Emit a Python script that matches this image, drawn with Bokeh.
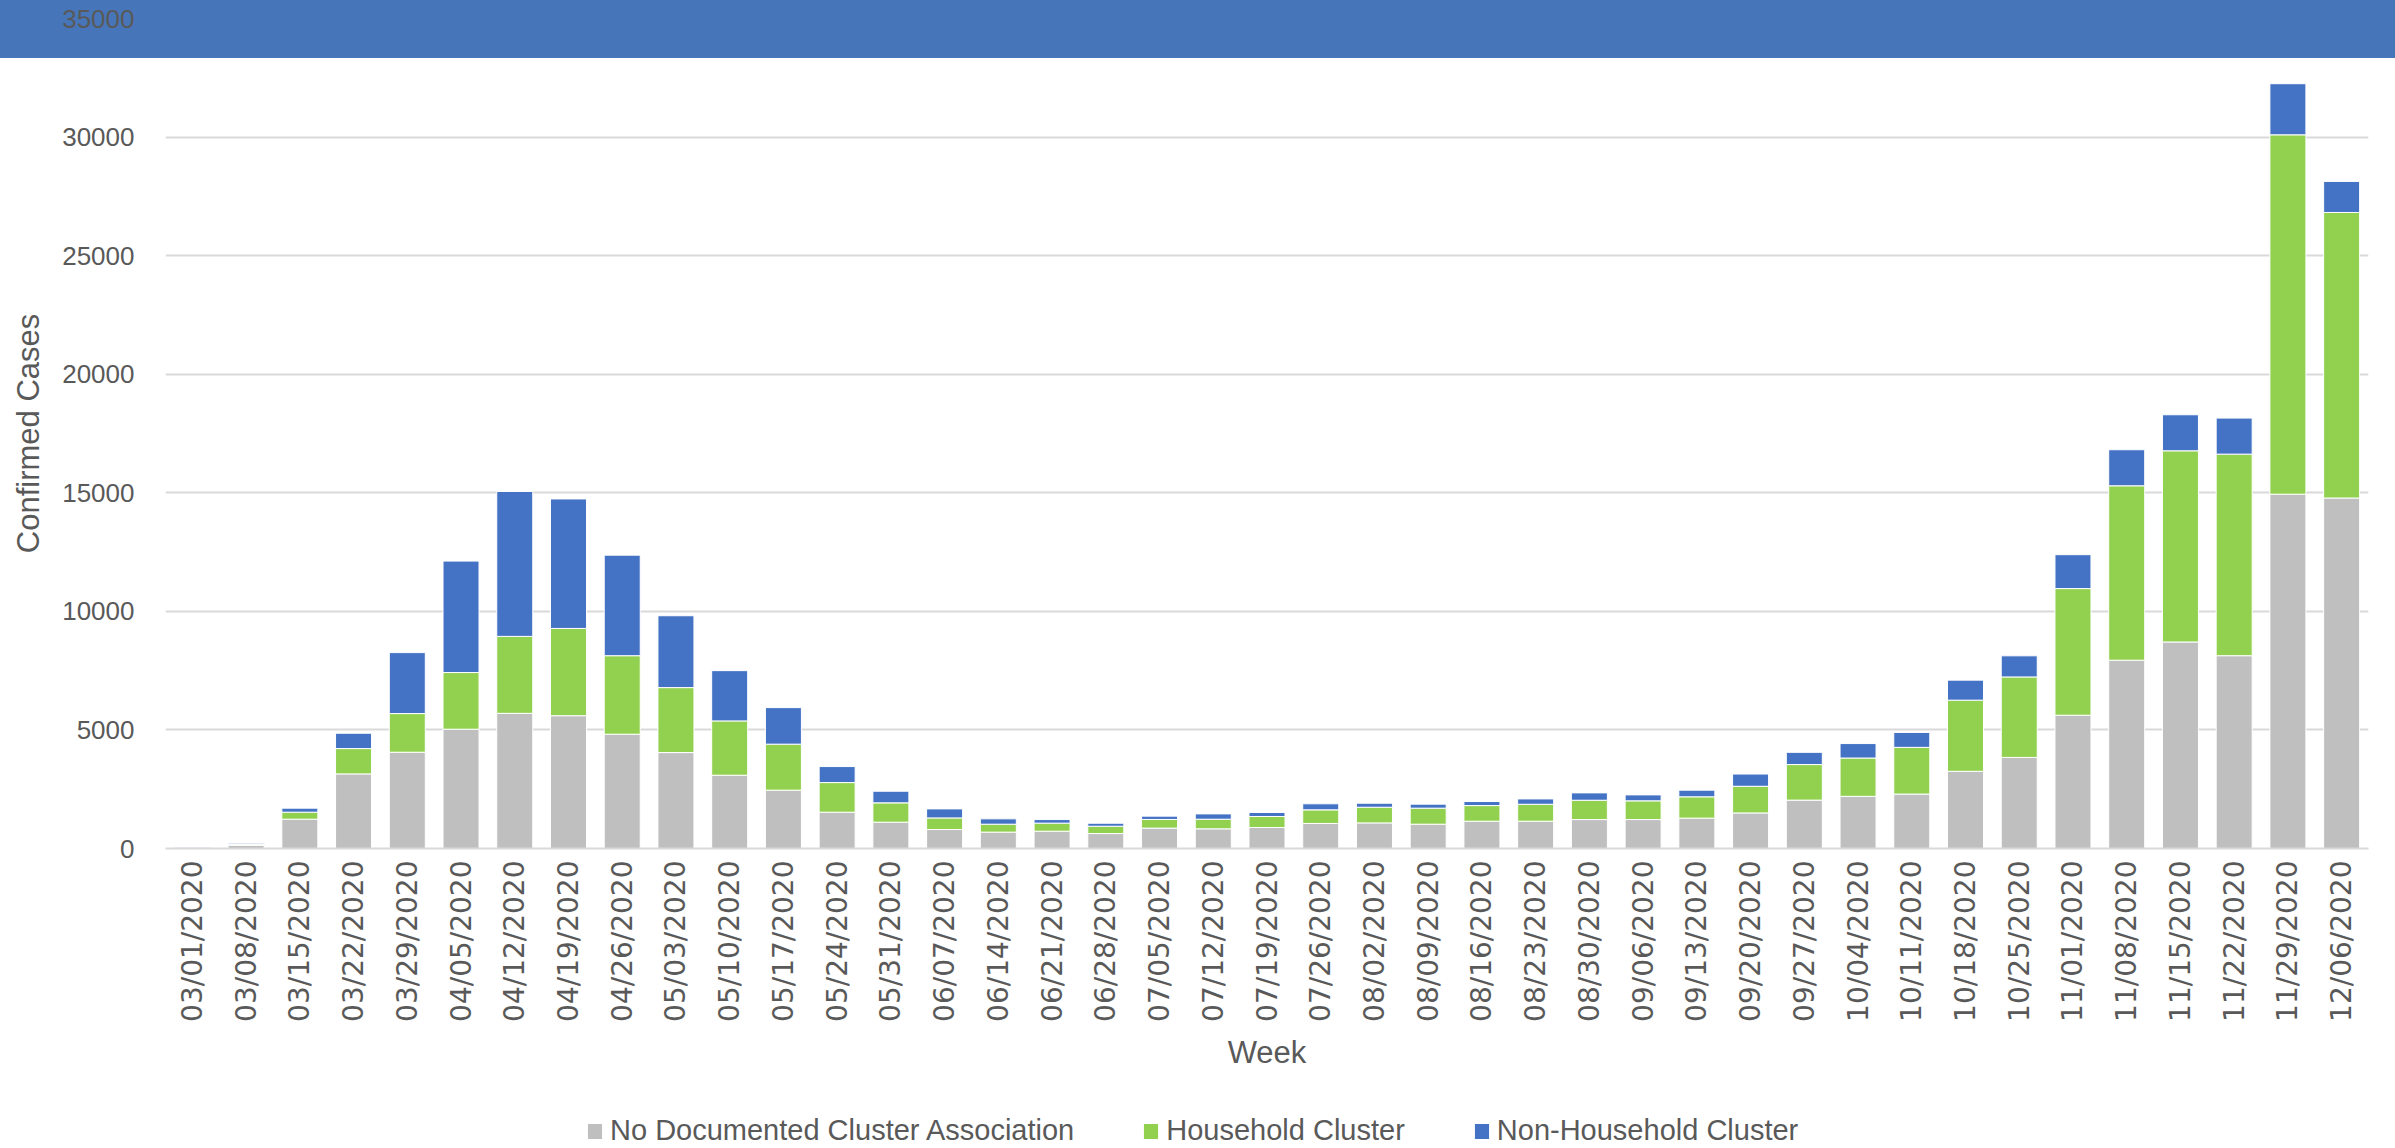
from bokeh.plotting import figure
from bokeh.models import (FactorRange, Range1d, FixedTicker, NumeralTickFormatter,
                          Legend, LegendItem)
from bokeh.layouts import column
from bokeh.embed import file_html
from bokeh.resources import INLINE
import math

weeks = ["03/01/2020", "03/08/2020", "03/15/2020", "03/22/2020", "03/29/2020",
         "04/05/2020", "04/12/2020", "04/19/2020", "04/26/2020", "05/03/2020",
         "05/10/2020", "05/17/2020", "05/24/2020", "05/31/2020", "06/07/2020",
         "06/14/2020", "06/21/2020", "06/28/2020", "07/05/2020", "07/12/2020",
         "07/19/2020", "07/26/2020", "08/02/2020", "08/09/2020", "08/16/2020",
         "08/23/2020", "08/30/2020", "09/06/2020", "09/13/2020", "09/20/2020",
         "09/27/2020", "10/04/2020", "10/11/2020", "10/18/2020", "10/25/2020",
         "11/01/2020", "11/08/2020", "11/15/2020", "11/22/2020", "11/29/2020",
         "12/06/2020"]

no_cluster = [15, 130, 1236, 3146, 4060, 5030, 5700, 5600, 4820, 4045,
              3090, 2460, 1530, 1110, 800, 690, 730, 630, 860, 830,
              885, 1055, 1080, 1025, 1150, 1150, 1220, 1220, 1280, 1500,
              2040, 2200, 2295, 3255, 3840, 5620, 7940, 8710, 8130, 14940,
              14780]

household = [5, 40, 295, 1067, 1630, 2390, 3245, 3680, 3310, 2740,
             2290, 1940, 1250, 815, 490, 335, 340, 310, 365, 405,
             465, 575, 660, 675, 660, 715, 815, 790, 900, 1125,
             1500, 1615, 1970, 3000, 3395, 5340, 7355, 8060, 8500, 15155,
             12040]

non_household = [35, 50, 170, 647, 2570, 4700, 6110, 5460, 4240, 3030,
                 2120, 1540, 675, 490, 380, 225, 150, 125, 140, 225,
                 170, 255, 170, 170, 170, 225, 310, 250, 280, 515,
                 515, 610, 630, 845, 890, 1430, 1520, 1520, 1520, 2155,
                 1310]

series_names = ["No Documented Cluster Association", "Household Cluster", "Non-Household Cluster"]
series_keys = ["no_cluster", "household", "non_household"]
colors = ["#BFBFBF", "#92D050", "#4472C4"]
y_ticks = [0, 5000, 10000, 15000, 20000, 25000, 30000, 35000]

TEXT = "#595959"
GRID = "#D9D9D9"
BAND = "#4676B9"

W = 2395
H_MAIN = 1092
H_LEG = 56

p = figure(width=W, height=H_MAIN, x_range=FactorRange(factors=weeks, range_padding=0),
           y_range=Range1d(0, 35000), output_backend="svg", toolbar_location=None,
           min_border_left=165, min_border_right=27, min_border_top=18,
           min_border_bottom=H_MAIN - 848,
           styles={"background": "linear-gradient(to bottom, %s 0px, %s 58px, #ffffff 58px, #ffffff 100%%)" % (BAND, BAND)})
p.outline_line_color = None
p.background_fill_alpha = 0
p.border_fill_alpha = 0

data = dict(weeks=weeks, no_cluster=no_cluster, household=household, non_household=non_household)
rs = p.vbar_stack(series_keys, x="weeks", width=0.67, color=colors, source=data,
                  line_color="white", line_width=1)

p.xgrid.grid_line_color = None
p.ygrid.grid_line_color = GRID
p.ygrid.grid_line_width = 2
p.ygrid.ticker = FixedTicker(ticks=y_ticks)

p.yaxis.ticker = FixedTicker(ticks=y_ticks)
p.yaxis.formatter = NumeralTickFormatter(format="0")
p.yaxis.axis_line_color = None
p.yaxis.major_tick_line_color = None
p.yaxis.minor_tick_line_color = None
p.yaxis.major_tick_out = 0
p.yaxis.major_label_standoff = 31
p.yaxis.major_label_text_font = "Liberation Sans"
p.yaxis.major_label_text_font_size = "26px"
p.yaxis.major_label_text_color = TEXT
p.yaxis.axis_label = "Confirmed Cases"
p.yaxis.axis_label_text_font = "Liberation Sans"
p.yaxis.axis_label_text_font_size = "31px"
p.yaxis.axis_label_text_font_style = "normal"
p.yaxis.axis_label_text_color = TEXT
p.yaxis.axis_label_standoff = 13

p.xaxis.axis_line_color = GRID
p.xaxis.axis_line_width = 2
p.xaxis.major_tick_line_color = None
p.xaxis.minor_tick_line_color = None
p.xaxis.major_tick_out = 0
p.xaxis.major_label_orientation = math.pi / 2
p.xaxis.major_label_standoff = 12
p.xaxis.major_label_text_font = "DejaVu Sans"
p.xaxis.major_label_text_font_size = "28px"
p.xaxis.major_label_text_color = TEXT
p.xaxis.axis_label = "Week"
p.xaxis.axis_label_text_font = "Liberation Sans"
p.xaxis.axis_label_text_font_size = "31px"
p.xaxis.axis_label_text_font_style = "normal"
p.xaxis.axis_label_text_color = TEXT
p.xaxis.axis_label_standoff = 10

# Legend strip below the chart (swatch renderers sit outside the visible y range)
lf = figure(width=W, height=H_LEG, x_range=Range1d(0, 1), y_range=Range1d(10, 11),
            output_backend="svg", toolbar_location=None,
            x_axis_location=None, y_axis_location=None,
            min_border_left=0, min_border_right=0, min_border_top=0, min_border_bottom=0)
lf.outline_line_color = None
lf.grid.grid_line_color = None
lf.border_fill_color = "white"
lf.background_fill_color = "white"
leg_src = dict(x=[0.5], top=[0.0])
leg_rs = [lf.vbar(x="x", top="top", width=0.1, source=leg_src, fill_color=c,
                  line_color="white", line_width=1)
          for c in colors]

legend = Legend(items=[LegendItem(label=n, renderers=[r]) for n, r in zip(series_names, leg_rs)],
                location=(420, 1), orientation="horizontal",
                glyph_width=19, glyph_height=20, label_standoff=6, spacing=67,
                padding=0, margin=0, border_line_color=None, background_fill_alpha=0,
                label_text_font="Liberation Sans", label_text_font_size="29px",
                label_text_color=TEXT)
lf.add_layout(legend, "center")

layout = column(p, lf, spacing=0)
open("out.html", "w").write(file_html(layout, INLINE))
